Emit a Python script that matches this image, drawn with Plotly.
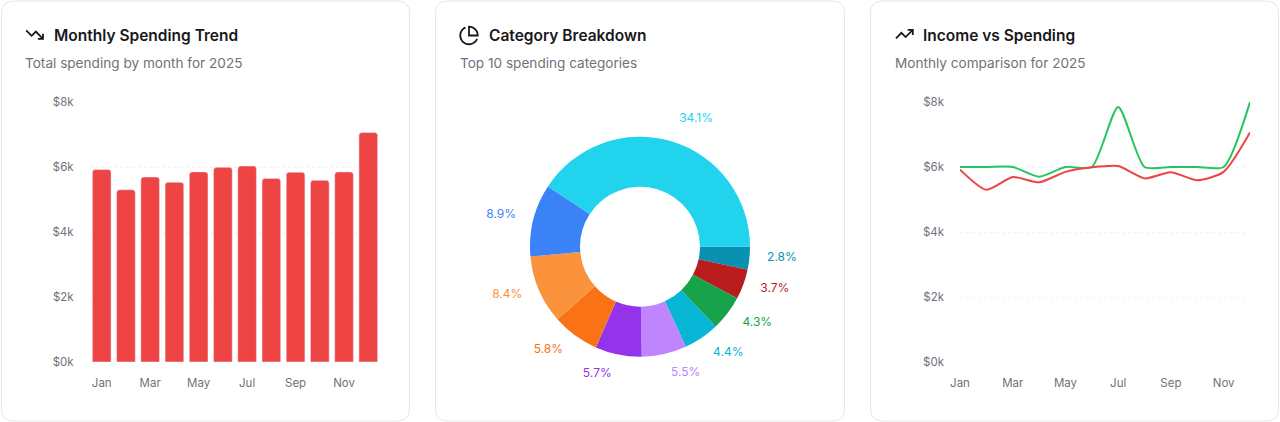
import numpy as np
import plotly.graph_objects as go

W, H = 1280, 422

months = ["Jan", "Feb", "Mar", "Apr", "May", "Jun", "Jul", "Aug", "Sep", "Oct", "Nov", "Dec"]
month_ticks = ["Jan", "Mar", "May", "Jul", "Sep", "Nov"]
spending = [5920, 5300, 5690, 5530, 5850, 5990, 6030, 5650, 5840, 5590, 5850, 7060]
income = [6000, 6000, 6000, 5700, 6000, 6000, 7850, 6000, 6000, 6000, 6000, 8000]

y_ticks = [0, 2000, 4000, 6000, 8000]
y_ticktext = ["$0k", "$2k", "$4k", "$6k", "$8k"]

categories = ["Category 1", "Category 2", "Category 3", "Category 4", "Category 5",
              "Category 6", "Category 7", "Category 8", "Category 9", "Category 10"]
category_pct = [34.1, 8.9, 8.4, 5.8, 5.7, 5.5, 4.4, 4.3, 3.7, 2.8]
category_colors = ["#22d3ee", "#3b82f6", "#fb923c", "#f97316", "#9333ea",
                   "#c084fc", "#06b6d4", "#16a34a", "#b91c1c", "#0891b2"]

RED = "#ef4444"
GREEN = "#22c55e"
INK = "#18181b"
MUTED = "#71717a"
FONT = "Inter"


def px(x):
    return x / W


def py(y):
    return 1 - y / H


def to_path(points, close=False):
    d = "M " + " L ".join(f"{px(x):.5f},{py(y):.5f}" for x, y in points)
    return d + (" Z" if close else "")


def rounded_rect(x0, y0, x1, y1, r):
    p = lambda x, y: f"{px(x):.5f},{py(y):.5f}"
    return (f"M {p(x0 + r, y0)} L {p(x1 - r, y0)} Q {p(x1, y0)} {p(x1, y0 + r)} "
            f"L {p(x1, y1 - r)} Q {p(x1, y1)} {p(x1 - r, y1)} "
            f"L {p(x0 + r, y1)} Q {p(x0, y1)} {p(x0, y1 - r)} "
            f"L {p(x0, y0 + r)} Q {p(x0, y0)} {p(x0 + r, y0)} Z")


def icon_points(pts, x0, y0, s):
    # lucide 24-unit icon coords -> pixels
    return [(x0 + u * s, y0 + v * s) for u, v in pts]


def arc_points(cx, cy, r, a0, a1, n=40):
    a = np.radians(np.linspace(a0, a1, n))
    return list(zip(cx + r * np.cos(a), cy + r * np.sin(a)))


fig = go.Figure()

# monthly spending bars
fig.add_trace(go.Bar(
    x=months, y=spending, marker=dict(color=RED, cornerradius=3),
    xaxis="x", yaxis="y", showlegend=False,
))

# category donut (drawn clockwise from 3 o'clock with the list reversed,
# so the biggest slice runs counterclockwise from 3 o'clock like the original)
pie_labels = categories[::-1]
pie_values = category_pct[::-1]
pie_colors = category_colors[::-1]
pie_text = [f"{v}%" for v in pie_values]
cx, cy, r_ring = 640, 246.7, 110
tcy, r_text = 243.7, 124

# invisible outer ring just to carry the outside labels a bit further out
fig.add_trace(go.Pie(
    labels=pie_labels, values=pie_values, sort=False, direction="clockwise", rotation=90,
    marker=dict(colors=["rgba(0,0,0,0)"] * len(pie_values), line=dict(width=0)),
    text=pie_text, textinfo="text", textposition="outside",
    outsidetextfont=dict(color=pie_colors, size=12, family=FONT),
    domain=dict(x=[px(cx - r_text), px(cx + r_text)], y=[py(tcy + r_text), py(tcy - r_text)]),
    hoverinfo="skip", showlegend=False,
))
fig.add_trace(go.Pie(
    labels=pie_labels, values=pie_values, hole=0.545, sort=False,
    direction="clockwise", rotation=90,
    marker=dict(colors=pie_colors, line=dict(width=0)),
    textinfo="none",
    domain=dict(x=[px(cx - r_ring), px(cx + r_ring)], y=[py(cy + r_ring), py(cy - r_ring)]),
    showlegend=False,
))

# income vs spending lines
fig.add_trace(go.Scatter(
    x=months, y=income, mode="lines", line=dict(color=GREEN, width=2, shape="spline", smoothing=0.65),
    xaxis="x2", yaxis="y2", showlegend=False, name="Income",
))
fig.add_trace(go.Scatter(
    x=months, y=spending, mode="lines", line=dict(color=RED, width=2, shape="spline", smoothing=0.65),
    xaxis="x2", yaxis="y2", showlegend=False, name="Spending",
))

shapes = []
for x0, x1 in [(1, 410), (435, 845), (870, 1279)]:
    shapes.append(dict(type="path", xref="paper", yref="paper", layer="below",
                       path=rounded_rect(x0 + 0.5, 1, x1 - 0.5, 421, 12),
                       line=dict(color="#e5e7eb", width=1), fillcolor="white"))

icon_line = dict(color=INK, width=1.8)
# trending down
s = 0.84
for pts in [[(2, 7), (8.5, 13.5), (13.5, 8.5), (22, 17)], [(16, 17), (22, 17), (22, 11)]]:
    shapes.append(dict(type="path", xref="paper", yref="paper",
                       path=to_path(icon_points(pts, 24.5, 24.5, s)), line=icon_line))
# trending up
for pts in [[(2, 17), (8.5, 10.5), (13.5, 15.5), (22, 7)], [(16, 7), (22, 7), (22, 13)]]:
    shapes.append(dict(type="path", xref="paper", yref="paper",
                       path=to_path(icon_points(pts, 894.3, 24.0, s)), line=icon_line))
# pie icon
s = 0.875
icx, icy, ir = 458.5 + 12 * s, 25 + 12 * s, 10 * s
shapes.append(dict(type="path", xref="paper", yref="paper",
                   path=to_path(arc_points(icx, icy, ir, 22.9, 246.4)), line=icon_line))
shapes.append(dict(type="path", xref="paper", yref="paper",
                   path=to_path(arc_points(icx, icy, ir, 0, -90) + [(icx, icy)], close=True),
                   line=icon_line))

annotations = []
for x_icon, x_title, title, sub in [
    (22.5, 52, "Monthly Spending Trend", "Total spending by month for 2025"),
    (457.5, 487, "Category Breakdown", "Top 10 spending categories"),
    (892.5, 921, "Income vs Spending", "Monthly comparison for 2025"),
]:
    annotations.append(dict(x=px(x_title), y=py(35.5), xref="paper", yref="paper", text=title,
                            showarrow=False, xanchor="left", yanchor="middle",
                            font=dict(family=FONT, size=15.5, color=INK, weight=600)))
    annotations.append(dict(x=px(x_icon), y=py(63), xref="paper", yref="paper", text=sub,
                            showarrow=False, xanchor="left", yanchor="middle",
                            font=dict(family=FONT, size=13.6, color=MUTED)))

tickfont = dict(family=FONT, size=11.5, color=MUTED)
xaxis_common = dict(type="category", tickvals=month_ticks, showgrid=False, showline=False,
                    zeroline=False, ticks="", tickfont=tickfont, ticklabelstandoff=12,
                    automargin=False, fixedrange=True)
yaxis_common = dict(range=[0, 8000], tickvals=y_ticks, ticktext=y_ticktext, showgrid=True,
                    gridcolor="#f2f2f2", griddash="3px,3px", gridwidth=1, zeroline=False,
                    showline=False, ticks="", tickfont=tickfont, ticklabelstandoff=15,
                    automargin=False, fixedrange=True)

fig.update_layout(
    width=W, height=H, autosize=False,
    margin=dict(l=0, r=0, t=0, b=0, pad=0, autoexpand=False),
    paper_bgcolor="white", plot_bgcolor="rgba(0,0,0,0)",
    font=dict(family=FONT, color=INK),
    bargap=0.23,
    xaxis=dict(domain=[px(89.6), px(380.4)], anchor="y", **xaxis_common),
    yaxis=dict(domain=[py(362), py(102)], anchor="x", **yaxis_common),
    xaxis2=dict(domain=[px(960), px(1250)], anchor="y2", range=[0, 11], **xaxis_common),
    yaxis2=dict(domain=[py(362), py(102)], anchor="x2", **yaxis_common),
    shapes=shapes,
    annotations=annotations,
)

fig.write_html("out.html", config={"displayModeBar": False},
               post_script="document.body.style.margin = '0';")
